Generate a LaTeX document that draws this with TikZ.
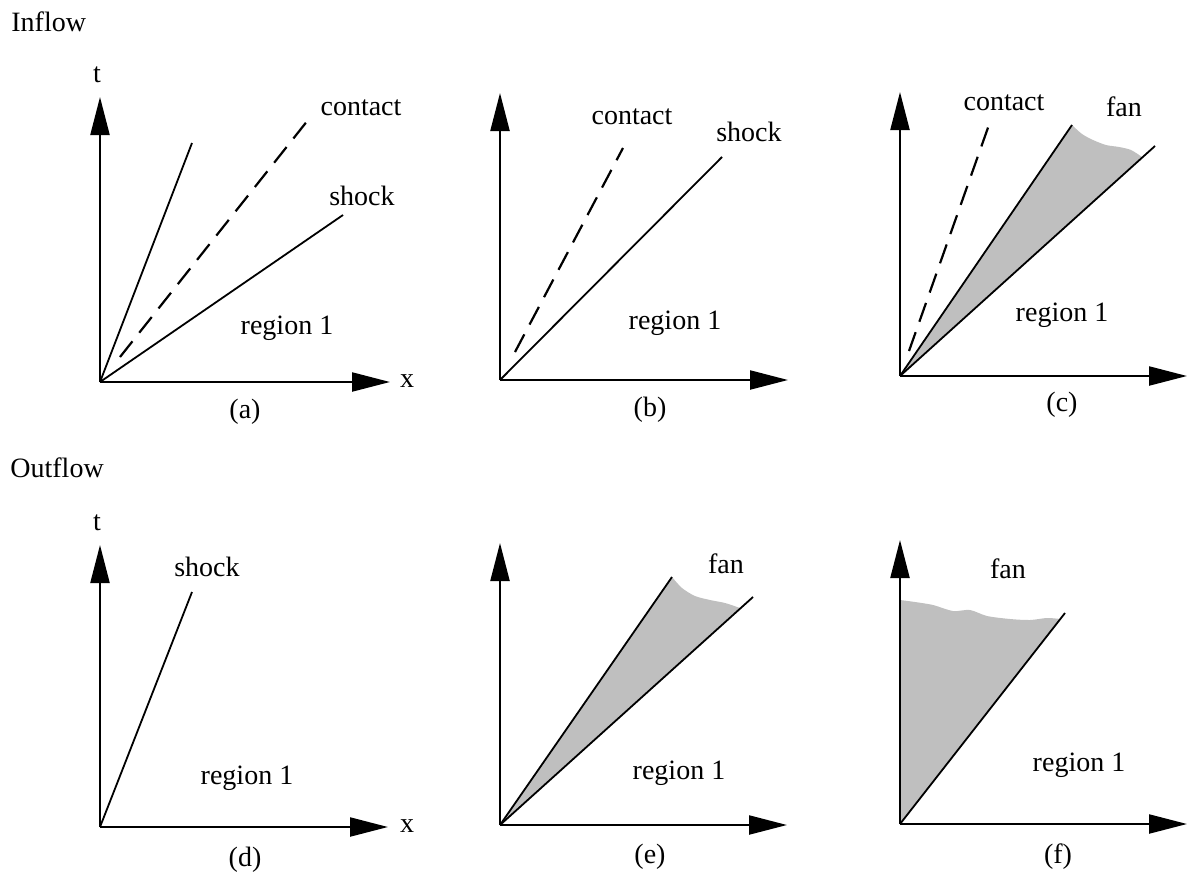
\documentclass[tikz,border=0pt]{standalone}
\usepackage{fontspec}
\setmainfont{Liberation Serif}
\usetikzlibrary{arrows.meta}
\begin{document}
\begin{tikzpicture}[x=0.5pt,y=-0.5pt,
  axis/.style={line width=1.1pt,-{Triangle[length=19pt,width=9.5pt]}},
  ray/.style={line width=0.9pt},
  contactline/.style={line width=1.1pt,dash pattern=on 10pt off 5.5pt},
  fanfill/.style={fill=black!25},
  lbl/.style={inner sep=0pt,font=\fontsize{14}{16}\selectfont}]
\useasboundingbox (0,0) rectangle (1189,878);

% ---------- headings
\node[lbl,anchor=west] (inflow) at (11,22) {Inflow};
\node[lbl,anchor=west] (outflow) at (10,468) {Outflow};

% ---------- panel (a)
\coordinate (Oa) at (100,382);
\coordinate (Ta) at (100,97);
\coordinate (Xa) at (390,382);
\coordinate (A1) at (192,143);
\coordinate (Ac0) at (120,357);
\coordinate (Ac1) at (312,115);
\coordinate (As) at (343,215);
\draw[ray] (Oa) -- (A1);
\draw[contactline] (Ac0) -- (Ac1);
\draw[ray] (Oa) -- (As);
\draw[axis] (Oa) -- (Ta);
\draw[axis] (Oa) -- (Xa);
\node[lbl] (ta) at (97,75) {t};
\node[lbl] (xa) at (407,381) {x};
\node[lbl] (ca) at (361,108) {contact};
\node[lbl] (sa) at (362,196) {shock};
\node[lbl] (ra) at (287,328) {region 1};
\node[lbl] (capa) at (245,412) {(a)};

% ---------- panel (b)
\coordinate (Ob) at (500,380);
\coordinate (Tb) at (500,93);
\coordinate (Xb) at (788,380);
\coordinate (Bc0) at (515,352);
\coordinate (Bc1) at (623,148);
\coordinate (Bs) at (722,157);
\draw[contactline] (Bc0) -- (Bc1);
\draw[ray] (Ob) -- (Bs);
\draw[axis] (Ob) -- (Tb);
\draw[axis] (Ob) -- (Xb);
\node[lbl] (cb) at (632,117) {contact};
\node[lbl] (sb) at (749,132) {shock};
\node[lbl] (rb) at (675,323) {region 1};
\node[lbl] (capb) at (650,410) {(b)};

% ---------- panel (c)
\coordinate (Oc) at (900,376);
\coordinate (Tc) at (900,92);
\coordinate (Xc) at (1187,376);
\coordinate (Cc0) at (909,351);
\coordinate (Cc1) at (990,122);
\coordinate (Cl) at (1072,125);
\coordinate (Cr) at (1155,146);
\fill[fanfill] (Oc) -- plot[smooth] coordinates {(1072,125) (1082,134) (1093,140) (1106,145) (1119,147) (1131,150) (1142,157)} -- cycle;
\draw[contactline] (Cc0) -- (Cc1);
\draw[ray] (Oc) -- (Cl);
\draw[ray] (Oc) -- (Cr);
\draw[axis] (Oc) -- (Tc);
\draw[axis] (Oc) -- (Xc);
\node[lbl] (cc) at (1004,103) {contact};
\node[lbl] (fc) at (1124,107) {fan};
\node[lbl] (rc) at (1062,315) {region 1};
\node[lbl] (capc) at (1062,405) {(c)};

% ---------- panel (d)
\coordinate (Od) at (100,827);
\coordinate (Td) at (100,545);
\coordinate (Xd) at (388,827);
\coordinate (Ds) at (192,592);
\draw[ray] (Od) -- (Ds);
\draw[axis] (Od) -- (Td);
\draw[axis] (Od) -- (Xd);
\node[lbl] (td) at (97,523) {t};
\node[lbl] (xd) at (407,826) {x};
\node[lbl] (sd) at (207,567) {shock};
\node[lbl] (rd) at (247,778) {region 1};
\node[lbl] (capd) at (245,860) {(d)};

% ---------- panel (e)
\coordinate (Oe) at (500,825);
\coordinate (Te) at (500,543);
\coordinate (Xe) at (787,825);
\coordinate (El) at (672,577);
\coordinate (Er) at (753,597);
\fill[fanfill] (Oe) -- plot[smooth] coordinates {(672,577) (682,588) (695,596) (710,600) (725,603) (740,608)} -- cycle;
\draw[ray] (Oe) -- (El);
\draw[ray] (Oe) -- (Er);
\draw[axis] (Oe) -- (Te);
\draw[axis] (Oe) -- (Xe);
\node[lbl] (fe) at (726,564) {fan};
\node[lbl] (re) at (679,773) {region 1};
\node[lbl] (cape) at (650,857) {(e)};

% ---------- panel (f)
\coordinate (Of) at (900,824);
\coordinate (Tf) at (900,540);
\coordinate (Xf) at (1187,824);
\coordinate (Fl) at (1065,613);
\fill[fanfill] (Of) -- plot[smooth] coordinates {(900,600) (915,602) (933,605) (953,611) (970,610) (987,616) (1010,619) (1030,620) (1047,618) (1060,619)} -- cycle;
\draw[ray] (Of) -- (Fl);
\draw[axis] (Of) -- (Tf);
\draw[axis] (Of) -- (Xf);
\node[lbl] (ff) at (1008,569) {fan};
\node[lbl] (rf) at (1079,765) {region 1};
\node[lbl] (capf) at (1058,857) {(f)};
\end{tikzpicture}
\end{document}
